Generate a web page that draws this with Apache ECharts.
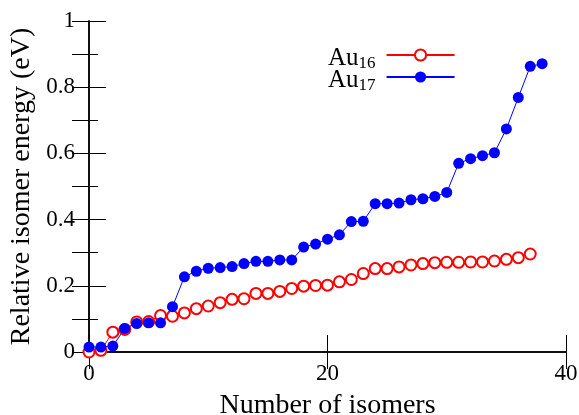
<!DOCTYPE html>
<html>
<head>
<meta charset="utf-8">
<script src="https://cdn.jsdelivr.net/npm/echarts@6/dist/echarts.min.js"></script>
<style>
  html, body { margin: 0; padding: 0; background: #fff; }
  #chart { width: 579px; height: 415px; }
</style>
</head>
<body>
<div id="chart"></div>
<script>
const au16 = [0.000, 0.005, 0.060, 0.068, 0.091, 0.092, 0.110, 0.108, 0.118, 0.131,
  0.139, 0.149, 0.159, 0.161, 0.177, 0.177, 0.183, 0.192, 0.199, 0.201,
  0.202, 0.212, 0.219, 0.237, 0.252, 0.252, 0.257, 0.263, 0.267, 0.270,
  0.271, 0.271, 0.272, 0.272, 0.275, 0.280, 0.285, 0.296]
const au17 = [0.015, 0.015, 0.018, 0.071, 0.086, 0.088, 0.088, 0.137, 0.227, 0.244,
  0.253, 0.255, 0.258, 0.267, 0.274, 0.274, 0.278, 0.278, 0.317, 0.326,
  0.341, 0.354, 0.394, 0.395, 0.448, 0.448, 0.450, 0.460, 0.463, 0.470,
  0.482, 0.570, 0.584, 0.593, 0.602, 0.674, 0.769, 0.863, 0.871]
const seriesNames = ['Au16', 'Au17']
const subLabels = { Au16: '16', Au17: '17' }

const serif = 'Liberation Serif'
const toPoints = arr => arr.map((v, i) => [i, v])

const chart = echarts.init(document.getElementById('chart'))

const hidden = { show: false }
const tickIn = { inside: true, length: 17, lineStyle: { color: '#000' } }
chart.setOption({
  animation: false,
  grid: { left: 89, right: 13, top: 21, bottom: 63, outerBoundsMode: 'none', containLabel: false },
  legend: {
    orient: 'vertical',
    left: 323,
    top: 41,
    align: 'right',
    itemWidth: 68,
    itemHeight: 14,
    itemGap: -4,
    data: seriesNames,
    formatter: name => '{n|Au}{s|' + subLabels[name] + '}',
    textStyle: {
      rich: {
        n: { fontFamily: serif, fontSize: 25, color: '#000', lineHeight: 18, verticalAlign: 'top' },
        s: { fontFamily: serif, fontSize: 17, color: '#000', lineHeight: 14, padding: [9, 6, 0, 0], verticalAlign: 'top' }
      }
    }
  },
  xAxis: [
    {
      type: 'value', min: 0, max: 40, interval: 20,
      name: 'Number of isomers', nameLocation: 'middle', nameGap: 40,
      nameTextStyle: { fontFamily: serif, fontSize: 28, color: '#000' },
      axisLine: { lineStyle: { color: '#000', width: 1.5 } },
      axisTick: tickIn,
      axisLabel: { fontFamily: serif, fontSize: 23, color: '#000', margin: 10 },
      splitLine: hidden
    },
    {
      type: 'value', position: 'top', min: 0, max: 40, interval: 20,
      axisLine: { lineStyle: { color: '#000', width: 1.5 } },
      axisTick: tickIn,
      axisLabel: hidden, splitLine: hidden
    }
  ],
  yAxis: [
    {
      type: 'value', min: 0, max: 1, interval: 0.2,
      name: 'Relative isomer energy (eV)', nameLocation: 'middle', nameGap: 52,
      nameTextStyle: { fontFamily: serif, fontSize: 28, color: '#000' },
      axisLine: { show: true, lineStyle: { color: '#000', width: 1.5 } },
      axisTick: tickIn,
      minorTick: { show: true, splitNumber: 2, length: 9, lineStyle: { color: '#000' } },
      axisLabel: { fontFamily: serif, fontSize: 23, color: '#000', margin: 14, formatter: v => String(+v.toFixed(1)) },
      splitLine: hidden
    },
    {
      type: 'value', position: 'right', min: 0, max: 1, interval: 0.1,
      axisLine: { show: true, lineStyle: { color: '#000', width: 1.5 } },
      axisTick: tickIn,
      axisLabel: hidden, splitLine: hidden
    }
  ],
  series: [
    {
      name: 'Au16', type: 'line', data: toPoints(au16),
      symbol: 'emptyCircle', symbolSize: 11,
      lineStyle: { color: '#ff0000', width: 1 },
      itemStyle: { color: '#ff0000', borderWidth: 1 }
    },
    {
      name: 'Au17', type: 'line', data: toPoints(au17),
      symbol: 'circle', symbolSize: 11,
      lineStyle: { color: '#0000ff', width: 1 },
      itemStyle: { color: '#0000ff' }
    }
  ]
})
</script>
</body>
</html>
